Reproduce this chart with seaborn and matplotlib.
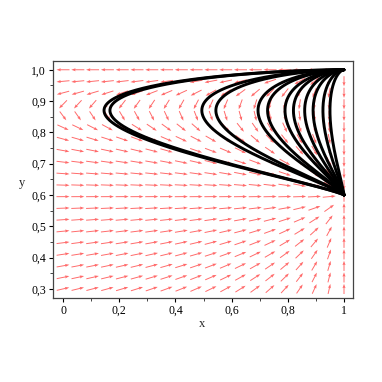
import numpy as np
import pandas as pd
import matplotlib
matplotlib.use('Agg')
import matplotlib.pyplot as plt
import seaborn as sns
from matplotlib.ticker import FuncFormatter, MultipleLocator

# system: dx = (1-x)(y_turn-y), dy = k(1-y)(y_sink-y)
y_turn = 0.87
y_sink = 0.6
k = 0.56

# leftmost x of each trajectory (turning points at y = y_turn)
x_left = [0.146, 0.167, 0.494, 0.544, 0.694, 0.728, 0.79, 0.82, 0.86, 0.89, 0.925, 0.95]

x_ticks = [0, 0.2, 0.4, 0.6, 0.8, 1]
y_ticks = [0.3, 0.4, 0.5, 0.6, 0.7, 0.8, 0.9, 1.0]

sns.set_style('ticks')
plt.rcParams['font.family'] = ['Liberation Serif', 'DejaVu Serif']

fig = plt.figure(figsize=(3.82, 3.82), dpi=100)
ax = fig.add_axes([53 / 382, 1 - 298 / 382, 300 / 382, 237 / 382])

# direction field, 20x20 grid like Maple's default dirgrid
gx = np.linspace(0, 1, 20)
gy = np.linspace(0.3, 1, 20)
X, Y = np.meshgrid(gx, gy)
U = (1 - X) * (y_turn - Y)
V = k * (1 - Y) * (y_sink - Y)
dx, dy = gx[1] - gx[0], gy[1] - gy[0]
Ug, Vg = U / dx, V / dy
n = np.hypot(Ug, Vg)
n[n == 0] = np.nan
Ua = Ug / n * dx * 0.88
Va = Vg / n * dy * 0.88
ax.quiver(X, Y, Ua, Va, angles='xy', scale_units='xy', scale=1, pivot='middle',
          color='#ff6a6a', width=0.0032, headwidth=3.2, headlength=4.5,
          headaxislength=4, zorder=1)

# trajectories: separable solution, parametrised by y
A = (1 - y_turn) / (1 - y_sink)
B = (y_turn - y_sink) / (1 - y_sink)
ys = np.concatenate([np.linspace(y_sink + 1e-5, 0.99, 800), 1 - np.logspace(-2, -6, 200)])
F = A * np.log(1 - ys) + B * np.log(ys - y_sink)
F0 = A * np.log(1 - y_turn) + B * np.log(y_turn - y_sink)
rows = []
for i, x0 in enumerate(x_left):
    xs = 1 - (1 - x0) * np.exp((F - F0) / k)
    rows.append(pd.DataFrame({'x': xs, 'y': ys, 'curve': i}))
df = pd.concat(rows)
for i, g in df.groupby('curve'):
    ax.plot(g['x'], g['y'], color='black', lw=2.1, zorder=3, solid_capstyle='round')

ax.set_xlim(-0.0356, 1.032)
ax.set_ylim(0.271, 1.028)

ax.xaxis.set_major_formatter(FuncFormatter(lambda v, p: '%d' % round(v) if abs(v - round(v)) < 1e-9 else ('%.1f' % v).replace('.', ',')))
ax.yaxis.set_major_formatter(FuncFormatter(lambda v, p: ('%.1f' % v).replace('.', ',')))
ax.set_xticks(x_ticks)
ax.set_yticks(y_ticks)
ax.xaxis.set_minor_locator(MultipleLocator(0.1))
ax.yaxis.set_minor_locator(MultipleLocator(0.05))
ax.tick_params(which='major', direction='out', length=3, width=0.8, labelsize=8.5, pad=2, colors='black')
ax.tick_params(which='minor', direction='out', length=2, width=0.6)
for s in ax.spines.values():
    s.set_color('#444444')
    s.set_linewidth(0.9)

ax.set_xlabel('x', fontsize=9)
ax.set_ylabel('y', fontsize=9, rotation=0, va='center', ha='center')
ax.xaxis.set_label_coords(0.497, -0.084)
ax.yaxis.set_label_coords(-0.103, 0.485)

fig.savefig('out.png', dpi=100, facecolor='white')
